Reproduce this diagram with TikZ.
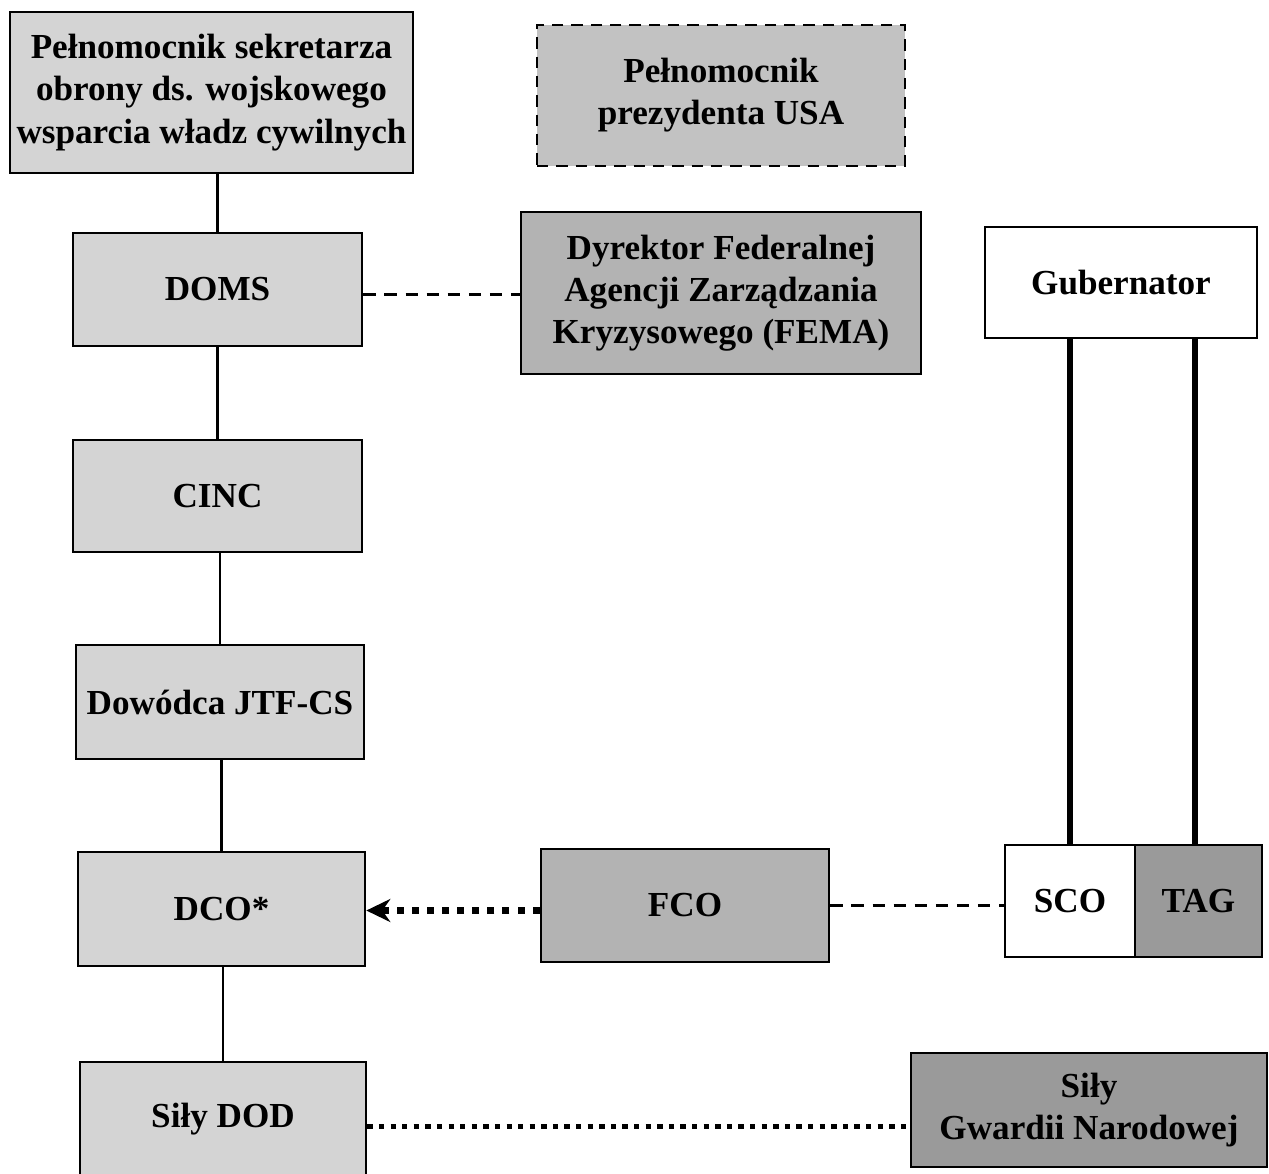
\documentclass[tikz,border=0pt]{standalone}
\usepackage{fontspec}
\setmainfont{Liberation Serif}
\usepackage{xcolor}
\usetikzlibrary{arrows.meta,positioning,calc}
\definecolor{GL}{HTML}{D4D4D4}
\definecolor{GP}{HTML}{C2C2C2}
\definecolor{GM}{HTML}{B3B3B3}
\definecolor{GD}{HTML}{9A9A9A}

\begin{document}
\begin{tikzpicture}[
    unit/.style={draw, line width=1.5pt, inner sep=0pt, align=center,
                 font=\fontsize{20}{24}\selectfont\bfseries},
    lightbox/.style={unit, fill=GL},
    midbox/.style={unit, fill=GM},
    darkbox/.style={unit, fill=GD},
    whitebox/.style={unit, fill=white},
    chain/.style={line width=1.3pt},
    thinlink/.style={line width=1.3pt, dash pattern=on 7pt off 5pt},
    heavylink/.style={line width=3.3pt}
  ]
    \useasboundingbox (0,0) rectangle (25.38,-23.46);

    %% ── left column ──────────────────────────────────
    \node[lightbox, minimum width=8.06cm, minimum height=3.22cm]
      (sekr) at (4.23,-1.85)
      {Pełnomocnik sekretarza\\obrony ds. wojskowego\\wsparcia władz cywilnych};
    \node[lightbox, minimum width=5.78cm, minimum height=2.26cm]
      (doms) at (4.35,-5.79) {DOMS};
    \node[lightbox, minimum width=5.78cm, minimum height=2.24cm]
      (cinc) at (4.35,-9.92) {CINC};
    \node[lightbox, minimum width=5.76cm, minimum height=2.28cm]
      (jtf) at (4.40,-14.04) {Dowódca JTF-CS};
    \node[lightbox, minimum width=5.74cm, minimum height=2.28cm]
      (dco) at (4.43,-18.18) {DCO*};
    \node[lightbox, minimum width=5.72cm, minimum height=2.28cm]
      (dod) at (4.46,-22.38) {Siły DOD};

    %% ── federal side ─────────────────────────────────
    \node[unit, fill=GP, dash pattern=on 6.5pt off 4.5pt,
          minimum width=7.36cm, minimum height=2.82cm]
      (prez) at (14.42,-1.91) {Pełnomocnik\\prezydenta USA};
    \node[midbox, minimum width=8.00cm, minimum height=3.24cm]
      (fema) at (14.42,-5.86)
      {Dyrektor Federalnej\\Agencji Zarządzania\\Kryzysowego (FEMA)};
    \node[midbox, minimum width=5.76cm, minimum height=2.26cm]
      (fco) at (13.70,-18.11) {FCO};

    %% ── state side ───────────────────────────────────
    \node[whitebox, minimum width=2.60cm, minimum height=2.24cm]
      (sco) at (21.40,-18.02) {SCO};
    \node[darkbox, minimum width=2.54cm, minimum height=2.24cm,
          right=-1.5pt of sco] (tag) {TAG};
    \node[whitebox, minimum width=5.44cm, minimum height=2.22cm]
      (gub) at (22.42,-5.65) {Gubernator};
    \node[darkbox, minimum width=7.12cm, minimum height=2.28cm]
      (gwn) at (21.78,-22.20) {Siły\\Gwardii Narodowej};

    %% ── chain of command ─────────────────────────────
    \draw[chain] (doms.north) -- (doms.north |- sekr.south);
    \draw[chain] (doms.south) -- (doms.south |- cinc.north);
    \draw[chain] (jtf.north) -- (jtf.north |- cinc.south);
    \draw[chain] (dco.north) -- (dco.north |- jtf.south);
    \draw[chain] (dod.north) -- (dod.north |- dco.south);

    %% ── links ────────────────────────────────────────
    \draw[thinlink] ([yshift=-0.1cm]doms.east) -- ([yshift=-0.1cm]doms.east -| fema.west);
    \draw[thinlink] (fco.east) -- (fco.east -| sco.west);
    \draw[line width=4pt, dash pattern=on 4pt off 4.6pt,
          -{Stealth[length=4.8mm, width=4.6mm, inset=1.6mm]}]
      ([yshift=-0.1cm]fco.west) -- ([yshift=-0.1cm]fco.west -| dco.east);
    \draw[line width=3pt, dash pattern=on 3pt off 3.6pt]
      ([yshift=-0.15cm]dod.east) -- ([yshift=-0.15cm]dod.east -| gwn.west);

    %% governor down to SCO / TAG
    \draw[heavylink] (sco.north) -- (sco.north |- gub.south);
    \draw[heavylink] ([xshift=-0.07cm]tag.north) -- ([xshift=-0.07cm]tag.north |- gub.south);

\end{tikzpicture}
\end{document}
